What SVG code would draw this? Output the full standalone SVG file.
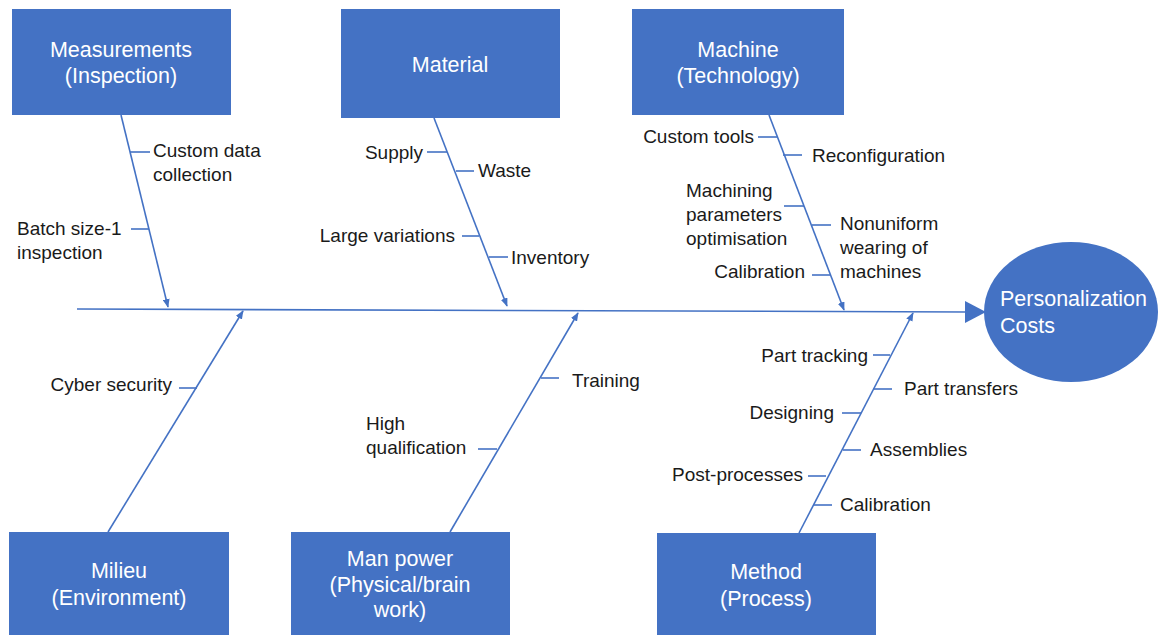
<svg xmlns="http://www.w3.org/2000/svg" width="1160" height="635" viewBox="0 0 1160 635">
<defs>
<style>
.box{fill:#4472C4;}
.bt{font-family:"Liberation Sans",Arial,sans-serif;font-size:21.5px;fill:#ffffff;text-anchor:middle;}
.lbl{font-family:"Liberation Sans",Arial,sans-serif;font-size:19px;fill:#1a1a1a;}
.e{text-anchor:end;}
.ln{stroke:#4472C4;stroke-width:1.6;fill:none;}
.tk{stroke:#4472C4;stroke-width:1.6;fill:none;}
</style>
<marker id="ah" viewBox="0 0 10 8" refX="9" refY="4" markerWidth="9" markerHeight="7" markerUnits="userSpaceOnUse" orient="auto">
<path d="M0,0 L10,4 L0,8 z" fill="#4472C4"/>
</marker>
</defs>
<rect width="1160" height="635" fill="#ffffff"/>

<g id="connectors">
<line class="ln" x1="77" y1="309" x2="967" y2="312"/>
<polygon points="965,301 986,312 965,323" fill="#4472C4"/>
<line class="ln" x1="121" y1="115" x2="168" y2="307" marker-end="url(#ah)"/>
<line class="ln" x1="434" y1="118" x2="507" y2="306" marker-end="url(#ah)"/>
<line class="ln" x1="769" y1="115" x2="844" y2="310" marker-end="url(#ah)"/>
<line class="ln" x1="108" y1="532" x2="243" y2="311" marker-end="url(#ah)"/>
<line class="ln" x1="450" y1="532" x2="578" y2="313" marker-end="url(#ah)"/>
<line class="ln" x1="799" y1="533" x2="913" y2="313" marker-end="url(#ah)"/>
<line class="tk" x1="130" y1="152" x2="150" y2="152"/>
<line class="tk" x1="131" y1="229" x2="149" y2="229"/>
<line class="tk" x1="427" y1="152" x2="447" y2="152"/>
<line class="tk" x1="456" y1="171" x2="474" y2="171"/>
<line class="tk" x1="462" y1="236" x2="479" y2="236"/>
<line class="tk" x1="489" y1="257" x2="508" y2="257"/>
<line class="tk" x1="758" y1="137" x2="777" y2="137"/>
<line class="tk" x1="783" y1="155" x2="802" y2="155"/>
<line class="tk" x1="784" y1="206" x2="804" y2="206"/>
<line class="tk" x1="812" y1="225" x2="831" y2="225"/>
<line class="tk" x1="812" y1="275" x2="830" y2="275"/>
<line class="tk" x1="179" y1="388" x2="197" y2="388"/>
<line class="tk" x1="541" y1="378" x2="559" y2="378"/>
<line class="tk" x1="478" y1="449" x2="497" y2="449"/>
<line class="tk" x1="873" y1="355" x2="890" y2="355"/>
<line class="tk" x1="873" y1="389" x2="892" y2="389"/>
<line class="tk" x1="842" y1="413" x2="861" y2="413"/>
<line class="tk" x1="843" y1="450" x2="861" y2="450"/>
<line class="tk" x1="808" y1="476" x2="826" y2="476"/>
<line class="tk" x1="813" y1="505" x2="832" y2="505"/>
</g>

<g id="measurements">
<rect class="box" x="12" y="9" width="219" height="106"/>
<text class="bt" x="121" y="57">Measurements</text>
<text class="bt" x="121" y="83">(Inspection)</text>
</g>
<g id="material">
<rect class="box" x="341" y="9" width="219" height="109"/>
<text class="bt" x="450" y="72">Material</text>
</g>
<g id="machine">
<rect class="box" x="632" y="9" width="212" height="106"/>
<text class="bt" x="738" y="57">Machine</text>
<text class="bt" x="738" y="83">(Technology)</text>
</g>
<g id="milieu">
<rect class="box" x="9" y="532" width="220" height="110"/>
<text class="bt" x="119" y="578">Milieu</text>
<text class="bt" x="119" y="605">(Environment)</text>
</g>
<g id="manpower">
<rect class="box" x="291" y="532" width="219" height="110"/>
<text class="bt" x="400" y="566">Man power</text>
<text class="bt" x="400" y="592">(Physical/brain</text>
<text class="bt" x="400" y="617">work)</text>
</g>
<g id="method">
<rect class="box" x="657" y="533" width="219" height="110"/>
<text class="bt" x="766" y="579">Method</text>
<text class="bt" x="766" y="606">(Process)</text>
</g>
<g id="effect">
<ellipse cx="1071" cy="312" rx="87" ry="70" fill="#4472C4"/>
<text class="bt" x="1000" y="306" style="text-anchor:start">Personalization</text>
<text class="bt" x="1000" y="333" style="text-anchor:start">Costs</text>
</g>

<g id="labels">
<text class="lbl" x="153" y="157">Custom data</text>
<text class="lbl" x="153" y="181">collection</text>
<text class="lbl" x="17" y="235">Batch size-1</text>
<text class="lbl" x="17" y="259">inspection</text>
<text class="lbl e" x="423" y="159">Supply</text>
<text class="lbl" x="478" y="177">Waste</text>
<text class="lbl e" x="455" y="242">Large variations</text>
<text class="lbl" x="511" y="264">Inventory</text>
<text class="lbl e" x="754" y="143">Custom tools</text>
<text class="lbl" x="812" y="162">Reconfiguration</text>
<text class="lbl" x="686" y="197">Machining</text>
<text class="lbl" x="686" y="221">parameters</text>
<text class="lbl" x="686" y="245">optimisation</text>
<text class="lbl" x="840" y="230">Nonuniform</text>
<text class="lbl" x="840" y="254">wearing of</text>
<text class="lbl" x="840" y="278">machines</text>
<text class="lbl e" x="805" y="278">Calibration</text>
<text class="lbl e" x="172" y="391">Cyber security</text>
<text class="lbl" x="572" y="387">Training</text>
<text class="lbl" x="366" y="430">High</text>
<text class="lbl" x="366" y="454">qualification</text>
<text class="lbl e" x="868" y="362">Part tracking</text>
<text class="lbl" x="904" y="395">Part transfers</text>
<text class="lbl e" x="834" y="419">Designing</text>
<text class="lbl" x="870" y="456">Assemblies</text>
<text class="lbl e" x="803" y="481">Post-processes</text>
<text class="lbl" x="840" y="511">Calibration</text>
</g>
</svg>
